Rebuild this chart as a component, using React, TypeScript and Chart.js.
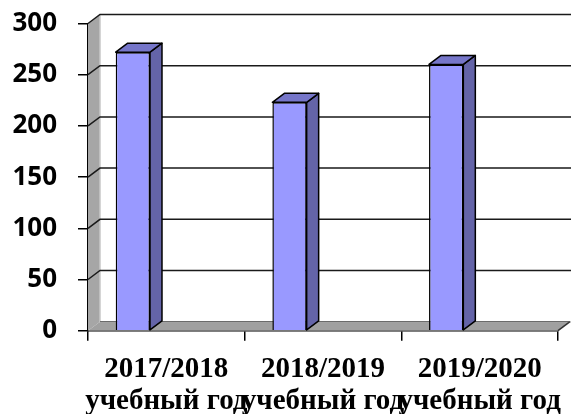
import React, { useEffect, useRef } from "react";
import { Chart, registerables } from "chart.js";

Chart.register(...registerables);

const categories: string[][] = [
  ["2017/2018", "учебный год"],
  ["2018/2019", "учебный год"],
  ["2019/2020", "учебный год"],
];
const values: number[] = [272, 223, 260];
const yTicks = { min: 0, max: 300, step: 50 };

const DX = 12;
const DY = -9;

const depthPlugin = {
  id: "depth3d",
  beforeDatasetsDraw(chart: any) {
    const { ctx, chartArea: a, scales } = chart;
    const y = scales.y;
    const W = chart.width;
    ctx.save();
    // left wall
    ctx.beginPath();
    ctx.moveTo(a.left, a.bottom);
    ctx.lineTo(a.left, a.top);
    ctx.lineTo(a.left + DX, a.top + DY);
    ctx.lineTo(a.left + DX, a.bottom + DY);
    ctx.closePath();
    ctx.fillStyle = "#a6a6a6";
    ctx.fill();
    // floor
    ctx.beginPath();
    ctx.moveTo(a.left, a.bottom);
    ctx.lineTo(a.right, a.bottom);
    ctx.lineTo(a.right + DX, a.bottom + DY);
    ctx.lineTo(a.left + DX, a.bottom + DY);
    ctx.closePath();
    ctx.fillStyle = "#a0a0a0";
    ctx.fill();
    // wall inner edge (light)
    ctx.strokeStyle = "#c8c8c8";
    ctx.lineWidth = 1.5;
    ctx.beginPath();
    ctx.moveTo(a.left + DX, a.top + DY);
    ctx.lineTo(a.left + DX, a.bottom + DY);
    ctx.lineTo(W, a.bottom + DY);
    ctx.stroke();
    // floor right edge
    ctx.strokeStyle = "#333";
    ctx.beginPath();
    ctx.moveTo(a.right, a.bottom);
    ctx.lineTo(a.right + DX, a.bottom + DY);
    ctx.stroke();
    // floor back edge dark
    ctx.strokeStyle = "#555";
    ctx.lineWidth = 1;
    ctx.beginPath();
    ctx.moveTo(a.left + DX, a.bottom + DY);
    ctx.lineTo(a.right + DX, a.bottom + DY);
    ctx.stroke();
    // gridlines
    ctx.strokeStyle = "#1a1a1a";
    ctx.lineWidth = 1.5;
    y.ticks.forEach((t: any) => {
      if (t.value <= yTicks.min) return;
      const py = y.getPixelForValue(t.value);
      ctx.beginPath();
      ctx.moveTo(a.left, py);
      ctx.lineTo(a.left + DX, py + DY);
      ctx.lineTo(W, py + DY);
      ctx.stroke();
    });
    ctx.restore();
  },
  afterDatasetsDraw(chart: any) {
    const { ctx } = chart;
    const meta = chart.getDatasetMeta(0);
    ctx.save();
    ctx.lineWidth = 1.5;
    ctx.strokeStyle = "#000";
    ctx.lineJoin = "round";
    meta.data.forEach((bar: any) => {
      const p = bar.getProps(["x", "y", "base", "width"], true);
      const l = p.x - p.width / 2;
      const r = p.x + p.width / 2;
      const t = p.y;
      const b = p.base;
      // side
      ctx.beginPath();
      ctx.moveTo(r, t);
      ctx.lineTo(r + DX, t + DY);
      ctx.lineTo(r + DX, b + DY);
      ctx.lineTo(r, b);
      ctx.closePath();
      ctx.fillStyle = "#6464a8";
      ctx.fill();
      ctx.stroke();
      // top
      ctx.beginPath();
      ctx.moveTo(l, t);
      ctx.lineTo(l + DX, t + DY);
      ctx.lineTo(r + DX, t + DY);
      ctx.lineTo(r, t);
      ctx.closePath();
      ctx.fillStyle = "#7676c9";
      ctx.fill();
      ctx.stroke();
    });
    ctx.restore();
  },
};

export default function App() {
  const ref = useRef<HTMLCanvasElement | null>(null);
  useEffect(() => {
    if (!ref.current) return;
    Chart.defaults.color = "#000";
    const chart = new Chart(ref.current, {
      type: "bar",
      data: {
        labels: categories,
        datasets: [
          {
            data: values,
            backgroundColor: "#9999ff",
            borderColor: "#000",
            borderWidth: 1.5,
            categoryPercentage: 0.855,
            barPercentage: 0.512,
          },
          {
            data: values.map(() => null),
            backgroundColor: "transparent",
            categoryPercentage: 0.855,
            barPercentage: 0.512,
          },
        ],
      },
      options: {
        animation: false,
        responsive: false,
        maintainAspectRatio: false,
        layout: { autoPadding: false, padding: { left: 8, top: 23.5, right: 13, bottom: 0 } },
        plugins: { legend: { display: false }, tooltip: { enabled: false } },
        scales: {
          x: {
            z: 1,
            afterFit: (s: any) => {
              s.height = 83.3;
              s.paddingLeft = 0;
              s.paddingRight = 0;
              s.paddingTop = 0;
              s.paddingBottom = 0;
            },
            grid: {
              offset: true,
              drawOnChartArea: false,
              drawTicks: true,
              tickLength: 10,
              color: "#000",
              lineWidth: 1.5,
            },
            border: { display: true, color: "#000", width: 1.5 },
            ticks: {
              padding: 13,
              color: "#000",
              maxRotation: 0,
              autoSkip: false,
              font: { family: "'Liberation Serif', serif", size: 29, weight: "bold", lineHeight: 1.1 },
            },
          },
          y: {
            z: 1,
            min: yTicks.min,
            max: yTicks.max,
            afterFit: (s: any) => {
              s.width = 80;
              s.paddingTop = 0;
              s.paddingBottom = 0;
              s.paddingLeft = 0;
              s.paddingRight = 0;
            },
            grid: {
              drawOnChartArea: false,
              drawTicks: true,
              tickLength: 10,
              color: "#000",
              lineWidth: 1.5,
            },
            border: { display: true, color: "#000", width: 1.5 },
            ticks: {
              stepSize: yTicks.step,
              padding: 21,
              color: "#000",
              font: { family: "'Open Sans', sans-serif", size: 26, weight: "bold" },
            },
          },
        },
      },
      plugins: [depthPlugin],
    });
    return () => chart.destroy();
  }, []);
  return (
    <div style={{ position: "absolute", left: 0, top: 0, width: 571, height: 414 }}>
      <canvas ref={ref} width={571} height={414} />
    </div>
  );
}
